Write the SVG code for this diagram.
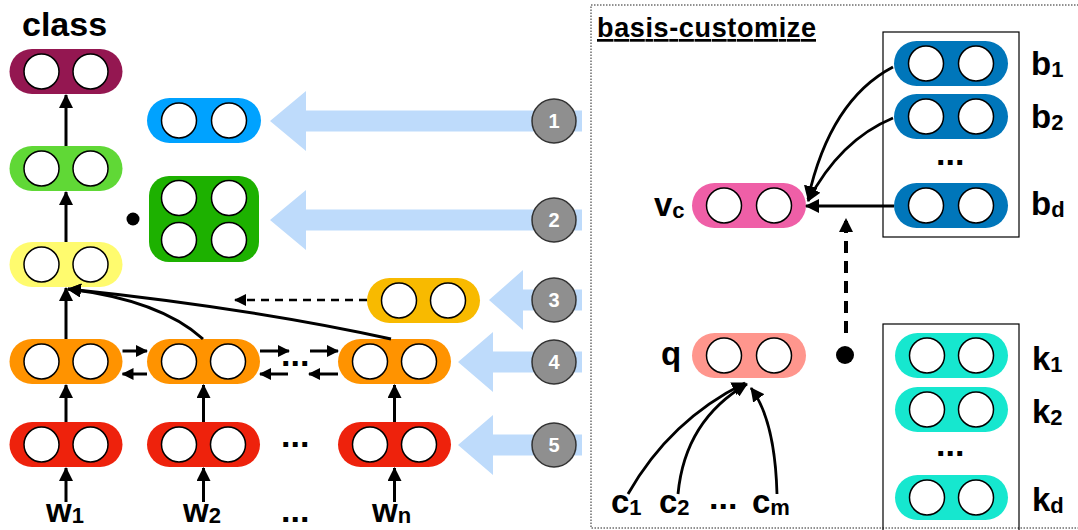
<svg xmlns="http://www.w3.org/2000/svg" width="1078" height="530" viewBox="0 0 1078 530">
<defs>
<style>
.c{fill:#fff;stroke:#000;stroke-width:1.5}
.t{font-family:"Liberation Sans",Arial,sans-serif;font-weight:bold;fill:#000}
.lb{font-size:33px}
.sb{font-size:22px}
.ln{fill:none;stroke:#000;stroke-width:3}
.lr{fill:none;stroke:#000;stroke-width:2.8}
.ba{fill:#bedbfb}
.gc{fill:#8f8f8f;stroke:#333;stroke-width:1.5}
.num{font-family:"Liberation Sans",Arial,sans-serif;font-weight:bold;fill:#fff;font-size:20px;text-anchor:middle}
</style>
<marker id="ah" viewBox="0 0 14 14" markerWidth="14" markerHeight="14" refX="13" refY="7" orient="auto" markerUnits="userSpaceOnUse">
<path d="M0,0 L14,7 L0,14 Z" fill="#000"/>
</marker>
<marker id="ahs" viewBox="0 0 12 12" markerWidth="12" markerHeight="12" refX="11" refY="6" orient="auto" markerUnits="userSpaceOnUse">
<path d="M0,0 L12,6 L0,12 Z" fill="#000"/>
</marker>
</defs>
<rect width="1078" height="530" fill="#fff"/>

<!-- dotted panel -->
<rect id="panel" x="591" y="5" width="500" height="523" fill="none" stroke="#222" stroke-width="1" stroke-dasharray="1.5 1.5"/>
<text class="t" x="597" y="37" font-size="27" text-decoration="underline" textLength="219">basis-customize</text>

<!-- light blue arrows and numbered circles -->
<g id="input-arrows">
<polygon class="ba" points="270,121 306,91 306,110.5 582,110.5 582,131.5 306,131.5 306,151"/>
<polygon class="ba" points="270,220 306,190 306,209.5 582,209.5 582,230.5 306,230.5 306,250"/>
<polygon class="ba" points="489,300 523,270 523,289.5 582,289.5 582,310.5 523,310.5 523,330"/>
<polygon class="ba" points="458,362 493,332 493,351.5 582,351.5 582,372.5 493,372.5 493,392"/>
<polygon class="ba" points="458,445 493,415 493,434.5 582,434.5 582,455.5 493,455.5 493,475"/>
</g>
<g id="n1"><circle class="gc" cx="554" cy="121" r="22"/><text class="num" x="554" y="128">1</text></g>
<g id="n2"><circle class="gc" cx="554" cy="220" r="22"/><text class="num" x="554" y="227">2</text></g>
<g id="n3"><circle class="gc" cx="554" cy="300" r="22"/><text class="num" x="554" y="307">3</text></g>
<g id="n4"><circle class="gc" cx="554" cy="362" r="22"/><text class="num" x="554" y="369">4</text></g>
<g id="n5"><circle class="gc" cx="554" cy="445" r="22"/><text class="num" x="554" y="452">5</text></g>

<!-- left nodes -->
<text class="t" x="22" y="36" font-size="34">class</text>
<g id="purple"><rect x="9.5" y="49" width="113" height="45" rx="22.5" fill="#941751"/><circle class="c" cx="41.5" cy="71.5" r="17.5"/><circle class="c" cx="90.5" cy="71.5" r="17.5"/></g>
<g id="lgreen"><rect x="9.5" y="146" width="113" height="45" rx="22.5" fill="#60d836"/><circle class="c" cx="41.5" cy="168.5" r="17.5"/><circle class="c" cx="90.5" cy="168.5" r="17.5"/></g>
<g id="yellow"><rect x="9.5" y="242" width="113" height="45" rx="22.5" fill="#fffb6e"/><circle class="c" cx="41.5" cy="264.5" r="17.5"/><circle class="c" cx="90.5" cy="264.5" r="17.5"/></g>
<g id="orange1"><rect x="9.5" y="339" width="113" height="45" rx="22.5" fill="#ff9300"/><circle class="c" cx="41.5" cy="361.5" r="17.5"/><circle class="c" cx="90.5" cy="361.5" r="17.5"/></g>
<g id="orange2"><rect x="147" y="339" width="113" height="45" rx="22.5" fill="#ff9300"/><circle class="c" cx="179" cy="361.5" r="17.5"/><circle class="c" cx="228" cy="361.5" r="17.5"/></g>
<g id="orangen"><rect x="338" y="339" width="113" height="45" rx="22.5" fill="#ff9300"/><circle class="c" cx="370" cy="361.5" r="17.5"/><circle class="c" cx="419" cy="361.5" r="17.5"/></g>
<g id="red1"><rect x="9.5" y="422" width="113" height="45" rx="22.5" fill="#ee220c"/><circle class="c" cx="41.5" cy="444.5" r="17.5"/><circle class="c" cx="90.5" cy="444.5" r="17.5"/></g>
<g id="red2"><rect x="147" y="422" width="113" height="45" rx="22.5" fill="#ee220c"/><circle class="c" cx="179" cy="444.5" r="17.5"/><circle class="c" cx="228" cy="444.5" r="17.5"/></g>
<g id="redn"><rect x="338" y="422" width="113" height="45" rx="22.5" fill="#ee220c"/><circle class="c" cx="370" cy="444.5" r="17.5"/><circle class="c" cx="419" cy="444.5" r="17.5"/></g>
<g id="blue"><rect x="147" y="98" width="114" height="45" rx="22.5" fill="#00a2ff"/><circle class="c" cx="179" cy="120.5" r="17.5"/><circle class="c" cx="229" cy="120.5" r="17.5"/></g>
<g id="dgreen"><rect x="149" y="176" width="110" height="86" rx="20" fill="#1db100"/><circle class="c" cx="179" cy="198" r="17.5"/><circle class="c" cx="229" cy="198" r="17.5"/><circle class="c" cx="179" cy="240" r="17.5"/><circle class="c" cx="229" cy="240" r="17.5"/></g>
<g id="dot1"><circle cx="133" cy="219" r="6.5" fill="#000"/></g>
<g id="gold"><rect x="367" y="278" width="113" height="45" rx="22.5" fill="#f8ba00"/><circle class="c" cx="399" cy="300.5" r="17.5"/><circle class="c" cx="448" cy="300.5" r="17.5"/></g>

<g id="wlabels">
<text class="t lb" x="46" y="522">w<tspan class="sb" dy="1">1</tspan></text>
<text class="t lb" x="183" y="522">w<tspan class="sb" dy="1">2</tspan></text>
<text class="t lb" x="372" y="522">w<tspan class="sb" dy="1">n</tspan></text>
<text class="t" x="281" y="522" font-size="34">...</text>
<text class="t" x="281" y="447" font-size="34">...</text>
<text class="t" x="281" y="366" font-size="34">...</text>
</g>

<!-- right nodes -->
<g id="vc"><rect x="692" y="183" width="114" height="45" rx="22.5" fill="#ef5fa7"/><circle class="c" cx="724" cy="205.5" r="17.5"/><circle class="c" cx="774" cy="205.5" r="17.5"/>
<text class="t lb" x="654" y="216">v<tspan class="sb" dy="2">c</tspan></text></g>
<g id="q"><rect x="692" y="333" width="114" height="45" rx="22.5" fill="#ff968d"/><circle class="c" cx="724" cy="355.5" r="17.5"/><circle class="c" cx="774" cy="355.5" r="17.5"/>
<text class="t lb" x="661" y="365">q</text></g>
<g id="dot2"><circle cx="845" cy="355" r="9" fill="#000"/></g>

<g id="bbox">
<rect x="883" y="32" width="136" height="205" fill="none" stroke="#000" stroke-width="1.2"/>
<g id="b1"><rect x="894" y="41" width="114" height="45" rx="22.5" fill="#0076ba"/><circle class="c" cx="926" cy="63.5" r="17.5"/><circle class="c" cx="976" cy="63.5" r="17.5"/></g>
<g id="b2"><rect x="894" y="94" width="114" height="45" rx="22.5" fill="#0076ba"/><circle class="c" cx="926" cy="116.5" r="17.5"/><circle class="c" cx="976" cy="116.5" r="17.5"/></g>
<g id="bd"><rect x="894" y="183" width="114" height="45" rx="22.5" fill="#0076ba"/><circle class="c" cx="926" cy="205.5" r="17.5"/><circle class="c" cx="976" cy="205.5" r="17.5"/></g>
<text class="t" x="936" y="165" font-size="34">...</text>
</g>
<text class="t lb" x="1031" y="75">b<tspan class="sb" dy="2">1</tspan></text>
<text class="t lb" x="1031" y="128">b<tspan class="sb" dy="2">2</tspan></text>
<text class="t lb" x="1031" y="215">b<tspan class="sb" dy="2">d</tspan></text>

<g id="kbox">
<rect x="883" y="324" width="136" height="210" fill="none" stroke="#000" stroke-width="1.2"/>
<g id="k1"><rect x="895" y="333" width="113" height="45" rx="22.5" fill="#16e7cf"/><circle class="c" cx="927" cy="355.5" r="17.5"/><circle class="c" cx="976" cy="355.5" r="17.5"/></g>
<g id="k2"><rect x="895" y="387" width="113" height="45" rx="22.5" fill="#16e7cf"/><circle class="c" cx="927" cy="409.5" r="17.5"/><circle class="c" cx="976" cy="409.5" r="17.5"/></g>
<g id="kd"><rect x="895" y="475" width="113" height="45" rx="22.5" fill="#16e7cf"/><circle class="c" cx="927" cy="497.5" r="17.5"/><circle class="c" cx="976" cy="497.5" r="17.5"/></g>
<text class="t" x="936" y="456" font-size="34">...</text>
</g>
<text class="t lb" x="1032" y="370">k<tspan class="sb" dy="2">1</tspan></text>
<text class="t lb" x="1032" y="423">k<tspan class="sb" dy="2">2</tspan></text>
<text class="t lb" x="1032" y="511">k<tspan class="sb" dy="2">d</tspan></text>

<g id="clabels">
<text class="t lb" x="611" y="513">c<tspan class="sb" dy="2">1</tspan></text>
<text class="t lb" x="659" y="513">c<tspan class="sb" dy="2">2</tspan></text>
<text class="t" x="709" y="509" font-size="34">...</text>
<text class="t lb" x="752" y="513">c<tspan class="sb" dy="2">m</tspan></text>
</g>

<!-- connectors -->
<g id="connectors">
<line class="ln" x1="66" y1="502" x2="66" y2="468" marker-end="url(#ah)"/>
<line class="ln" x1="203.5" y1="502" x2="203.5" y2="468" marker-end="url(#ah)"/>
<line class="ln" x1="394.5" y1="502" x2="394.5" y2="468" marker-end="url(#ah)"/>
<line class="ln" x1="66" y1="422" x2="66" y2="385" marker-end="url(#ah)"/>
<line class="ln" x1="203.5" y1="422" x2="203.5" y2="385" marker-end="url(#ah)"/>
<line class="ln" x1="394.5" y1="422" x2="394.5" y2="385" marker-end="url(#ah)"/>
<line class="ln" x1="66" y1="339" x2="66" y2="288" marker-end="url(#ah)"/>
<line class="ln" x1="66" y1="242" x2="66" y2="192" marker-end="url(#ah)"/>
<line class="ln" x1="66" y1="146" x2="66" y2="95" marker-end="url(#ah)"/>
<path class="ln" d="M203,339 Q160,300 68,289" marker-end="url(#ah)"/>
<path class="ln" d="M391,339 Q250,308 68,289" marker-end="url(#ah)"/>
<line class="ln" x1="122.5" y1="351" x2="147" y2="351" marker-end="url(#ahs)"/>
<line class="ln" x1="147" y1="374" x2="122.5" y2="374" marker-end="url(#ahs)"/>
<line class="ln" x1="260" y1="351" x2="289" y2="351" marker-end="url(#ahs)"/>
<line class="ln" x1="288" y1="374" x2="260" y2="374" marker-end="url(#ahs)"/>
<line class="ln" x1="310" y1="351" x2="338" y2="351" marker-end="url(#ahs)"/>
<line class="ln" x1="338" y1="374" x2="309" y2="374" marker-end="url(#ahs)"/>
<line x1="367" y1="300" x2="235" y2="300" stroke="#000" stroke-width="2.5" stroke-dasharray="8 6" marker-end="url(#ahs)"/>
<path class="lr" d="M893,67 Q830,100 808,199" marker-end="url(#ah)"/>
<path class="lr" d="M893,118 Q840,140 808,201" marker-end="url(#ah)"/>
<line class="lr" x1="894" y1="206" x2="806" y2="206" marker-end="url(#ah)"/>
<line x1="846" y1="333" x2="846" y2="219" stroke="#000" stroke-width="4" stroke-dasharray="12 8" marker-end="url(#ah)"/>
<path class="lr" d="M628,494 Q670,420 745,383" marker-end="url(#ah)"/>
<path class="lr" d="M678,494 Q685,420 747,384" marker-end="url(#ah)"/>
<path class="lr" d="M777,494 Q775,420 751,388" marker-end="url(#ah)"/>
</g>
</svg>
